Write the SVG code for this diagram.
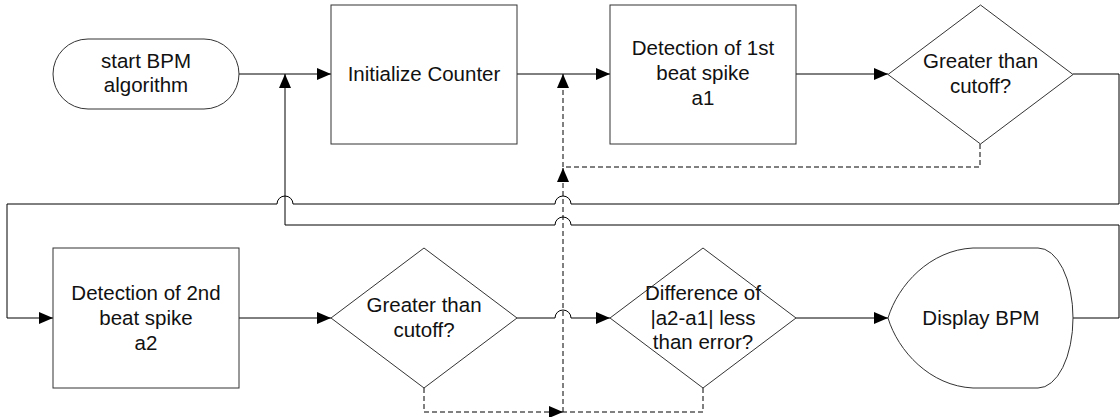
<svg xmlns="http://www.w3.org/2000/svg" width="1120" height="417" viewBox="0 0 1120 417">
<defs>
<marker id="ah" viewBox="0 0 14 12" refX="14" refY="6" markerWidth="14" markerHeight="12" markerUnits="userSpaceOnUse" orient="auto">
<path d="M0,0 L14,6 L0,12 Z" fill="#000"/>
</marker>
<style>
.shape{fill:#fff;stroke:#333;stroke-width:1}
.t{font-family:"Liberation Sans",Arial,sans-serif;font-size:20.5px;fill:#111;text-anchor:middle}
.c{fill:none;stroke:#000;stroke-width:1}
.d{fill:none;stroke:#000;stroke-width:1;stroke-dasharray:5,3}
</style>
</defs>
<rect width="1120" height="417" fill="#fff"/>

<g id="connectors">
<path class="c" d="M239,74 H331" marker-end="url(#ah)"/>
<path class="c" d="M517,74 H610" marker-end="url(#ah)"/>
<path class="c" d="M796,74 H888" marker-end="url(#ah)"/>
<path class="c" d="M1073,74 H1119 V204 H571 A8,8 0 0 0 555,204 H293 A8,8 0 0 0 277,204 H7 V318 H53" marker-end="url(#ah)"/>
<path class="c" d="M1073,318 H1119 V225 H571 A8,8 0 0 0 555,225 H285 V74" marker-end="url(#ah)"/>
<path class="d" d="M980,144 V167 H563 V74" marker-end="url(#ah)"/>
<path class="d" d="M424,388 V412 H563" marker-end="url(#ah)"/>
<path class="d" d="M703,388 V412 H563"/>
<path class="d" d="M563,412 V168" marker-end="url(#ah)"/>
<path class="c" d="M239,318 H331" marker-end="url(#ah)"/>
<path class="c" d="M517,318 H555 A8,8 0 0 1 571,318 H610" marker-end="url(#ah)"/>
<path class="c" d="M796,318 H888" marker-end="url(#ah)"/>
</g>

<g id="start">
<rect class="shape" x="53" y="39" width="186" height="70" rx="35" ry="35"/>
<text class="t" x="146" y="68">start BPM</text>
<text class="t" x="146" y="92">algorithm</text>
</g>

<g id="init">
<rect class="shape" x="331" y="5" width="186" height="139"/>
<text class="t" x="424" y="81">Initialize Counter</text>
</g>

<g id="det1">
<rect class="shape" x="610" y="5" width="186" height="139"/>
<text class="t" x="703" y="55">Detection of 1st</text>
<text class="t" x="703" y="80">beat spike</text>
<text class="t" x="703" y="105">a1</text>
</g>

<g id="dec1">
<polygon class="shape" points="980.5,5 1073,74.5 980.5,144 888,74.5"/>
<text class="t" x="980.5" y="68">Greater than</text>
<text class="t" x="980.5" y="93">cutoff?</text>
</g>

<g id="det2">
<rect class="shape" x="53" y="248" width="186" height="140"/>
<text class="t" x="146" y="300">Detection of 2nd</text>
<text class="t" x="146" y="325">beat spike</text>
<text class="t" x="146" y="350">a2</text>
</g>

<g id="dec2">
<polygon class="shape" points="424,248 517,318 424,388 331,318"/>
<text class="t" x="424" y="312">Greater than</text>
<text class="t" x="424" y="337">cutoff?</text>
</g>

<g id="dec3">
<polygon class="shape" points="703,248 796,318 703,388 610,318"/>
<text class="t" x="703" y="300">Difference of</text>
<text class="t" x="703" y="325">|a2-a1| less</text>
<text class="t" x="703" y="349">than error?</text>
</g>

<g id="display">
<path class="shape" d="M973,248 C930,250 898,285 888,318 C898,351 930,386 973,388 H1038 A35,70 0 0 0 1038,248 Z"/>
<text class="t" x="981" y="325">Display BPM</text>
</g>
</svg>
